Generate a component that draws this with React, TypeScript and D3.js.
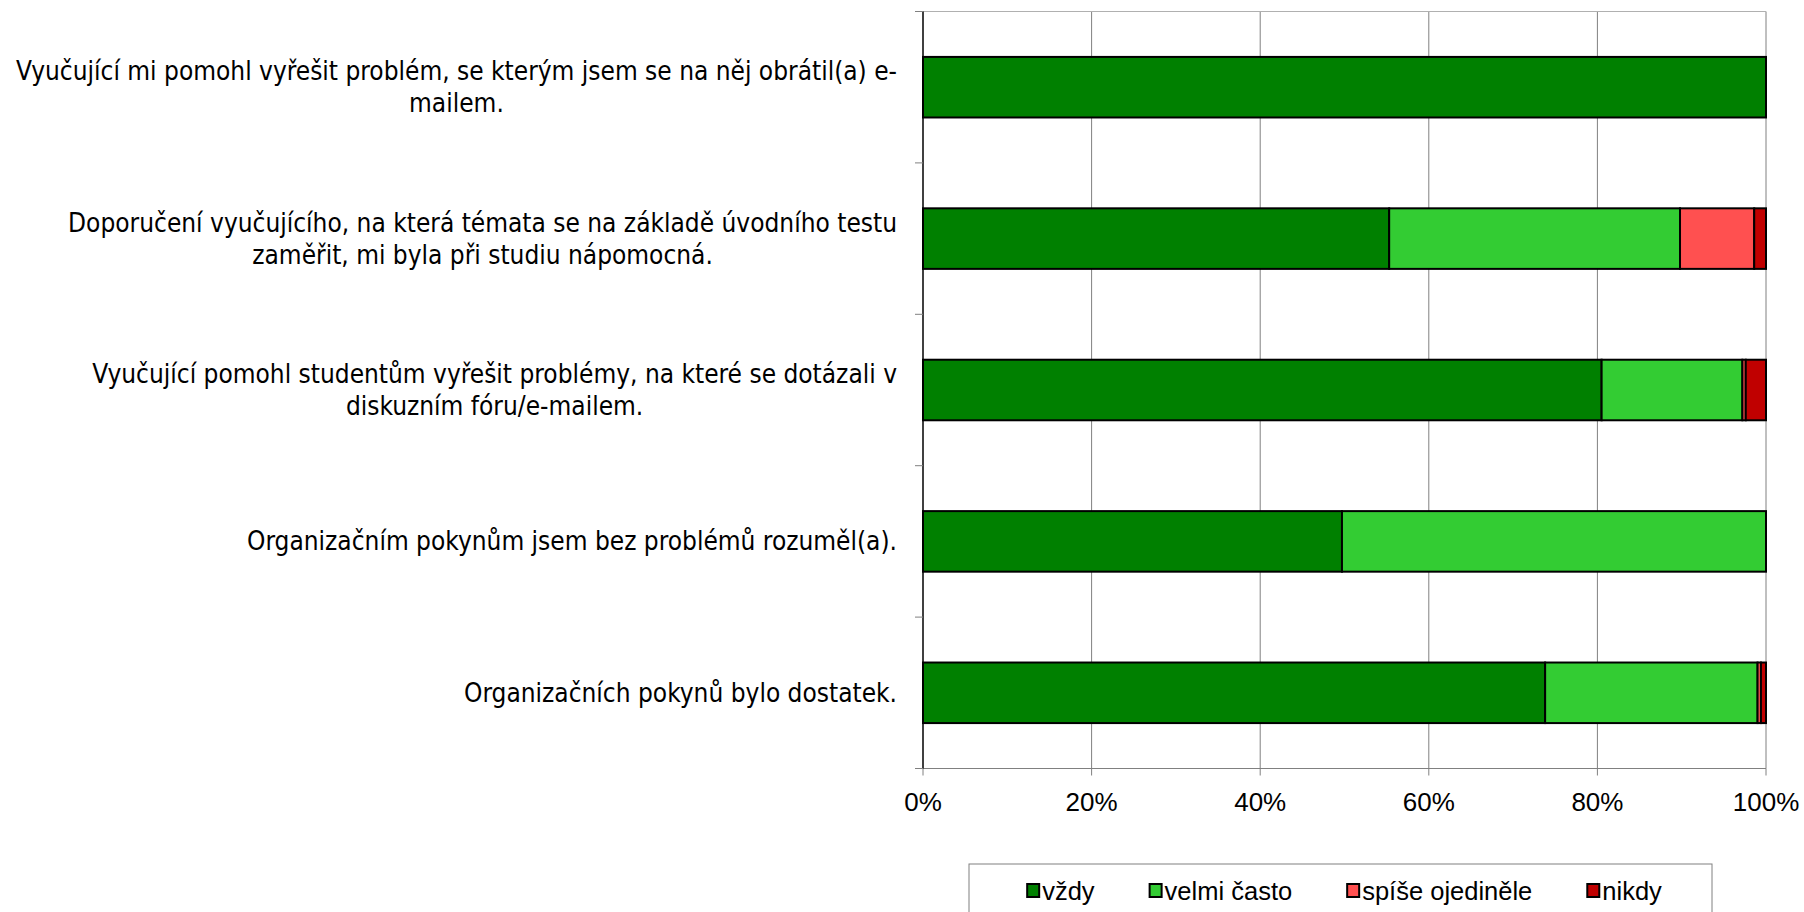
import React, { useEffect, useRef } from "react";
import * as d3 from "d3";

// categories (top to bottom), line breaks as in the original chart
const categories = [
  "Vyučující mi pomohl vyřešit problém, se kterým jsem se na něj obrátil(a) e-\nmailem.",
  "Doporučení vyučujícího, na která témata se na základě úvodního testu\nzaměřit, mi byla při studiu nápomocná.",
  "Vyučující pomohl studentům vyřešit problémy, na které se dotázali v\ndiskuzním fóru/e-mailem.",
  "Organizačním pokynům jsem bez problémů rozuměl(a).",
  "Organizačních pokynů bylo dostatek.",
];

const seriesNames = ["vždy", "velmi často", "spíše ojediněle", "nikdy"];
const seriesColors = ["#008000", "#33cc33", "#ff5050", "#c00000"];

// percent values per series, same order as categories
const vzdy = [100, 55.3, 80.5, 49.7, 73.8];
const velmiCasto = [0, 34.5, 16.7, 50.3, 25.2];
const spiseOjedinele = [0, 8.8, 0.4, 0, 0.4];
const nikdy = [0, 1.4, 2.4, 0, 0.6];

const xTicks = [0, 20, 40, 60, 80, 100];

export default function App() {
  const svgRef = useRef<SVGSVGElement>(null);

  useEffect(() => {
    const svg = d3.select(svgRef.current);
    svg.selectAll("*").remove();

    const left = 923, right = 1766, top = 11.5, bottom = 768.5;
    const labelFont = "'DejaVu Sans Condensed', 'DejaVu Sans', sans-serif";
    const axisFont = "'Liberation Sans', Arial, sans-serif";

    const x = d3.scaleLinear().domain([0, 100]).range([left, right]);
    const y = d3.scaleBand<string>()
      .domain(categories)
      .range([top, bottom])
      .paddingInner(0.6)
      .paddingOuter(0.3);

    // gridlines
    svg.append("g")
      .selectAll("line")
      .data(xTicks.filter(t => t > 0))
      .enter()
      .append("line")
      .attr("x1", d => x(d))
      .attr("x2", d => x(d))
      .attr("y1", top)
      .attr("y2", bottom)
      .attr("stroke", "#808080")
      .attr("stroke-width", 1);

    // top and bottom frame lines
    svg.append("line")
      .attr("x1", left).attr("x2", right).attr("y1", top).attr("y2", top)
      .attr("stroke", "#b0b0b0");
    svg.append("line")
      .attr("x1", left).attr("x2", right).attr("y1", bottom).attr("y2", bottom)
      .attr("stroke", "#808080");

    // x ticks below the axis
    svg.append("g")
      .selectAll("line")
      .data(xTicks)
      .enter()
      .append("line")
      .attr("x1", d => x(d)).attr("x2", d => x(d))
      .attr("y1", bottom).attr("y2", bottom + 7)
      .attr("stroke", "#808080");

    svg.append("g")
      .selectAll("text")
      .data(xTicks)
      .enter()
      .append("text")
      .attr("x", d => x(d))
      .attr("y", 811)
      .attr("text-anchor", "middle")
      .style("font-family", axisFont)
      .style("font-size", "26px")
      .text(d => d + "%");

    // stacked bars
    const table = categories.map((c, i) => ({
      cat: c,
      vals: [vzdy[i], velmiCasto[i], spiseOjedinele[i], nikdy[i]],
    }));
    const stacked = d3.stack<{ cat: string; vals: number[] }, number>()
      .keys([0, 1, 2, 3])
      .value((d, k) => d.vals[k])(table);

    stacked.forEach((layer, si) => {
      svg.append("g")
        .selectAll("rect")
        .data(layer.filter(d => d[1] - d[0] > 0))
        .enter()
        .append("rect")
        .attr("x", d => x(d[0]))
        .attr("width", d => x(d[1]) - x(d[0]))
        .attr("y", d => y(d.data.cat)!)
        .attr("height", y.bandwidth())
        .attr("fill", seriesColors[si])
        .attr("stroke", "#000")
        .attr("stroke-width", 2);
    });

    // category axis
    svg.append("line")
      .attr("x1", left).attr("x2", left).attr("y1", top).attr("y2", bottom)
      .attr("stroke", "#000").attr("stroke-width", 1.5);
    const bounds = [top, ...categories.map(c => y(c)! + y.bandwidth() / 2 + y.step() / 2)];
    svg.append("g")
      .selectAll("line")
      .data(bounds)
      .enter()
      .append("line")
      .attr("x1", left - 8).attr("x2", left)
      .attr("y1", d => d).attr("y2", d => d)
      .attr("stroke", "#808080");

    // category labels: lines centred on each other, block right-aligned
    const labelRight = 897;
    const lineH = 32;
    categories.forEach(c => {
      const lines = c.split("\n");
      const cy = y(c)! + y.bandwidth() / 2;
      const g = svg.append("g");
      const texts = lines.map((ln, li) =>
        g.append("text")
          .attr("y", cy + (li - (lines.length - 1) / 2) * lineH + 9)
          .attr("text-anchor", "middle")
          .style("font-family", labelFont)
          .style("font-size", "26px")
          .text(ln)
      );
      const maxW = d3.max(texts, t => (t.node() as SVGTextElement).getComputedTextLength()) || 0;
      texts.forEach(t => t.attr("x", labelRight - maxW / 2));
    });

    // legend
    const lgX = 969, lgY = 864, lgW = 743, lgH = 60;
    svg.append("rect")
      .attr("x", lgX).attr("y", lgY).attr("width", lgW).attr("height", lgH)
      .attr("fill", "#fff").attr("stroke", "#808080");
    const items = svg.append("g");
    const gap = 55;
    let cx = 0;
    seriesNames.forEach((name, i) => {
      const it = items.append("g").attr("transform", `translate(${cx},0)`);
      it.append("rect")
        .attr("x", 0).attr("y", -6.5).attr("width", 12).attr("height", 13)
        .attr("fill", seriesColors[i]).attr("stroke", "#000").attr("stroke-width", 2);
      const t = it.append("text")
        .attr("x", 15).attr("y", 9)
        .style("font-family", axisFont)
        .style("font-size", "25.5px")
        .text(name);
      const w = (t.node() as SVGTextElement).getComputedTextLength();
      cx += 15 + w + gap;
    });
    const total = cx - gap;
    items.attr("transform", `translate(${lgX + lgW / 2 - total / 2 + 4},890.5)`);
  }, []);

  return (
    <svg
      ref={svgRef}
      width={1804}
      height={912}
      style={{ position: "absolute", left: 0, top: 0, background: "#fff" }}
    />
  );
}
